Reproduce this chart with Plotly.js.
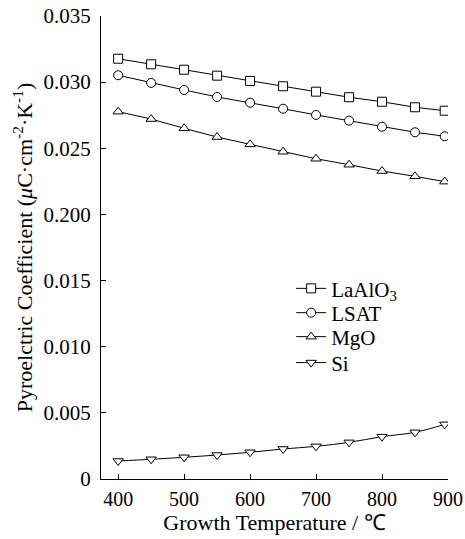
<!DOCTYPE html>
<html>
<head>
<meta charset="utf-8">
<script src="https://cdn.plot.ly/plotly-3.0.1.min.js"></script>
<style>html,body{margin:0;padding:0;background:#fff;}#chart{width:465px;height:539px;}</style>
</head>
<body>
<div id="chart"></div>
<script>
const temperature = [400, 450, 500, 550, 600, 650, 700, 750, 800, 850, 895];
const laalo3 = [0.03177, 0.03135, 0.03094, 0.03049, 0.03009, 0.02969, 0.02928, 0.02886, 0.02852, 0.02810, 0.02784];
const lsat = [0.03052, 0.02994, 0.02941, 0.02888, 0.02845, 0.02799, 0.02752, 0.02709, 0.02663, 0.02621, 0.02591];
const mgo = [0.02777, 0.02721, 0.02651, 0.02585, 0.02530, 0.02474, 0.02421, 0.02376, 0.02328, 0.02288, 0.02248];
const si = [0.00136, 0.00149, 0.00164, 0.00181, 0.00202, 0.00227, 0.00247, 0.00277, 0.00320, 0.00353, 0.00413];
const yTickVals = [0, 0.005, 0.010, 0.015, 0.020, 0.025, 0.030, 0.035];
const yTickText = ['0', '0.005', '0.010', '0.015', '0.200', '0.025', '0.030', '0.035'];
const xTickVals = [400, 500, 600, 700, 800, 900];

const FONT = 'Liberation Serif, Times New Roman, serif';
function series(name, y, symbol, legendId, shape) {
  return {
    x: temperature, y: y, name: name, type: 'scatter', mode: 'lines+markers', legend: legendId,
    line: {color: '#000', width: 1, shape: shape || 'linear'},
    marker: {symbol: symbol, size: 9, color: '#fff', line: {color: '#000', width: 1}}
  };
}
const data = [
  series('LaAlO<sub>3</sub>', laalo3, 'square', 'legend'),
  series('LSAT', lsat, 'circle', 'legend2'),
  series('MgO', mgo, 'triangle-up', 'legend3'),
  series('Si', si, 'triangle-down', 'legend4', 'spline')
];
function leg(y) {
  return {x: 0.548, y: y, xanchor: 'left', yanchor: 'middle', bgcolor: 'rgba(0,0,0,0)',
          font: {family: FONT, size: 21, color: '#000'}, itemwidth: 30, borderwidth: 0};
}
const layout = {
  width: 465, height: 539,
  margin: {l: 101, r: 17, t: 16, b: 60},
  paper_bgcolor: '#fff', plot_bgcolor: '#fff',
  font: {family: FONT, size: 20, color: '#000'},
  showlegend: true,
  legend: leg(0.411), legend2: leg(0.3585), legend3: leg(0.3067), legend4: leg(0.2507),
  xaxis: {
    range: [374, 900], tickvals: xTickVals, ticks: 'inside', ticklen: 5, tickcolor: '#000',
    showline: true, linecolor: '#000', linewidth: 1, showgrid: false, zeroline: false,
    automargin: false, tickfont: {family: FONT, size: 20}, ticklabelstandoff: 2,
    title: {text: 'Growth Temperature / ℃', font: {family: FONT, size: 22}, standoff: 0}
  },
  yaxis: {
    range: [0, 0.035], tickvals: yTickVals, ticktext: yTickText,
    ticks: 'inside', ticklen: 5, tickcolor: '#000',
    showline: true, linecolor: '#000', linewidth: 1, showgrid: false, zeroline: false,
    automargin: false, tickfont: {family: FONT, size: 21}, ticklabelstandoff: 5,
    title: {text: 'Pyroelctric Coefficient (<i>μ</i>C·cm<sup>-2</sup>·K<sup>-1</sup>)', font: {family: FONT, size: 22}, standoff: 4}
  }
};
Plotly.newPlot('chart', data, layout, {displayModeBar: false, staticPlot: true});
</script>
</body>
</html>
